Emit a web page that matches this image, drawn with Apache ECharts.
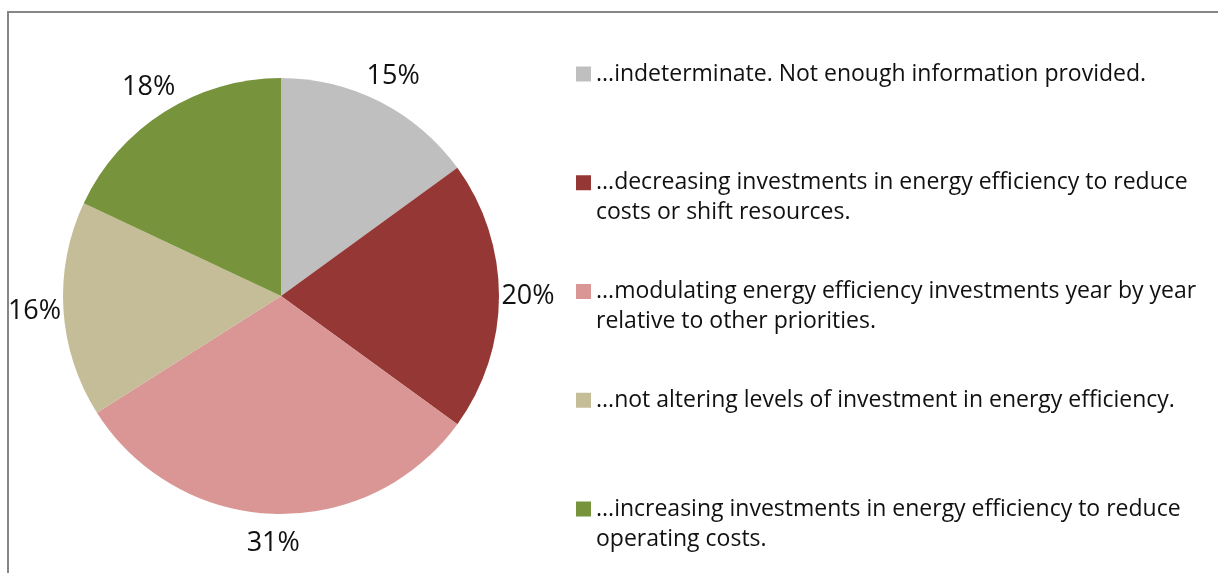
<!DOCTYPE html>
<html>
<head>
<meta charset="utf-8">
<script src="https://cdn.jsdelivr.net/npm/echarts@6/dist/echarts.min.js"></script>
<style>
  html, body { margin: 0; padding: 0; background: #fff; }
  #chart { width: 1218px; height: 573px; }
</style>
</head>
<body>
<div id="chart"></div>
<script>
// slices, clockwise from 12 o'clock
const categories = [
  '...indeterminate. Not enough information provided.',
  '...decreasing investments in energy efficiency to reduce costs or shift resources.',
  '...modulating energy efficiency investments year by year relative to other priorities.',
  '...not altering levels of investment in energy efficiency.',
  '...increasing investments in energy efficiency to reduce operating costs.'
];
// legend text as wrapped in the original
const legendLines = [
  ['...indeterminate. Not enough information provided.'],
  ['...decreasing investments in energy efficiency to reduce', 'costs or shift resources.'],
  ['...modulating energy efficiency investments year by year', 'relative to other priorities.'],
  ['...not altering levels of investment in energy efficiency.'],
  ['...increasing investments in energy efficiency to reduce', 'operating costs.']
];
const shares = [15, 20, 31, 16, 18];
const colors = ['#BFBFBF', '#953735', '#D99694', '#C4BD97', '#77933C'];

const FONT = 'Open Sans';
const LH = 30;           // legend line height
const CX = 281, CY = 296, R = 218;
const LABEL_DIST = 247;  // label centre distance from pie centre

// mid angle of each slice (clockwise from top), used to place the % labels
const total = shares.reduce((a, b) => a + b, 0);
let acc = 0;
const midAngles = shares.map((v) => {
  const mid = (acc + v / 2) / total * 2 * Math.PI;
  acc += v;
  return mid;
});

const chart = echarts.init(document.getElementById('chart'), null, { renderer: 'canvas' });

chart.setOption({
  animation: false,
  backgroundColor: '#fff',
  color: colors,
  graphic: [{
    type: 'rect',
    shape: { x: 8, y: 12, width: 1240, height: 600 },
    style: { fill: 'none', stroke: '#868686', lineWidth: 2 },
    silent: true
  }],
  legend: {
    orient: 'vertical',
    left: 576,
    top: 74 - 1.5 * LH,
    padding: 0,
    icon: 'rect',
    itemWidth: 15,
    itemHeight: 15,
    itemGap: 108.75 - 3 * LH,
    selectedMode: false,
    data: categories,
    // an empty leading line keeps the first text line level with the marker
    formatter: (name) => {
      const lines = legendLines[categories.indexOf(name)];
      return '\n' + lines.join('\n') + (lines.length === 1 ? '\n' : '');
    },
    textStyle: {
      fontFamily: FONT,
      fontSize: 23,
      lineHeight: LH,
      color: '#111'
    }
  },
  series: [{
    type: 'pie',
    center: [CX, CY],
    radius: R,
    startAngle: 90,
    clockwise: true,
    silent: true,
    avoidLabelOverlap: false,
    data: categories.map((name, i) => ({ name, value: shares[i] })),
    label: {
      show: true,
      position: 'outside',
      formatter: '{c}%',
      fontFamily: FONT,
      fontSize: 27,
      color: '#111'
    },
    labelLine: { show: false },
    labelLayout: (params) => {
      const a = midAngles[params.dataIndex];
      return {
        x: CX + LABEL_DIST * Math.sin(a),
        y: CY - LABEL_DIST * Math.cos(a),
        align: 'center',
        verticalAlign: 'middle'
      };
    }
  }]
});
</script>
</body>
</html>
